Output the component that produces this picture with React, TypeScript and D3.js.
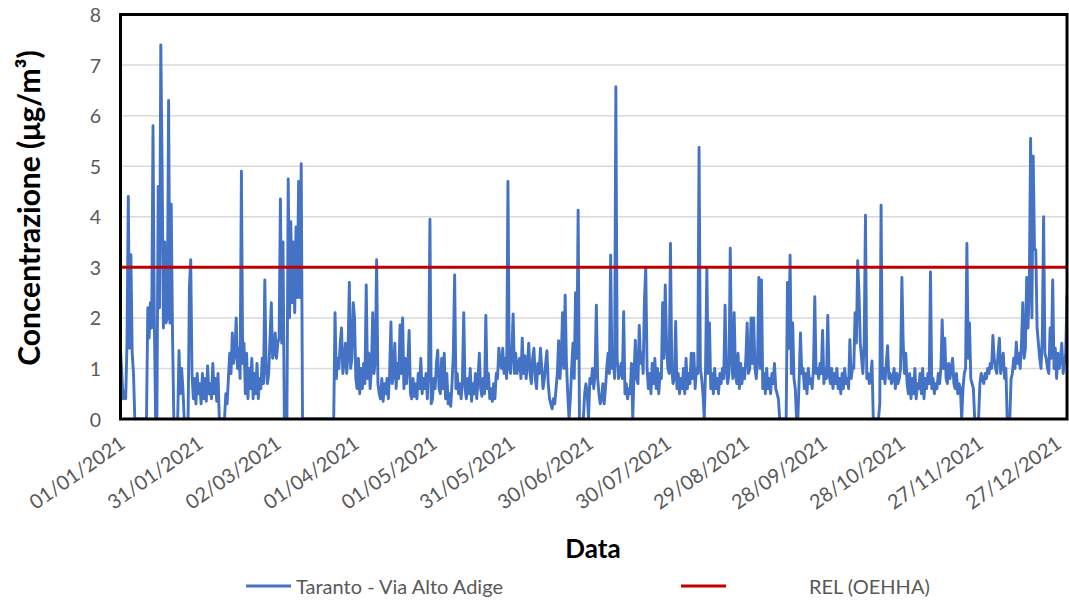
import React from "react";
import * as d3 from "d3";

// ---------- DATA ----------
const startDate = "01/01/2021";
const endDate = "31/12/2021";
const stepHours = 12; // two readings per day (00:00, 12:00)

const jan = [1.35,0.9, 0.4,0.55, 0.4,1.5, 4.4,1.4, 3.25,1.3, 0.9,0, 0,0, 0,0, 0,0, 0,0,
  0,2.2, 1.6,2.3, 1.8,5.8, 2.0,0, 0,4.6, 2.2,7.4, 5.0,1.8, 3.5,1.9, 2.0,6.3, 1.9,4.25,
  1.7,0, 0,0, 0,1.35, 0.5,1.0, 0.6,0, 0,0, 0,2.6, 3.15,0.9, 0.4,0.8, 0.3,0.9, 0.5,0.7];
const feb = [0.3,0.9, 0.4,0.8, 0.35,1.05, 0.5,0.7, 0.4,1.1, 0.5,0.8, 0.35,0.9, 0,0, 0,0, 0,0.5,
  0.3,0.8, 1.3,0.9, 1.7,1.1, 1.3,2.0, 1.0,1.4, 0.8,4.9, 1.1,1.5, 0.5,1.3, 0.4,1.0, 0.6,1.2,
  0.4,0.9, 0.5,1.1, 0.4,0.8, 0.6,1.2, 0.7,2.75, 1.0,0.7, 0.9,1.6, 2.3,1.2];
const mar = [1.3,1.7, 1.2,1.5, 1.6,4.35, 1.5,3.5, 0,0, 0,4.75, 2.0,3.9, 2.3,3.5, 2.1,3.8, 2.4,4.7,
  2.4,5.05, 0,0, 0,0, 0,0, 0,0, 0,0, 0,0, 0,0, 0,0, 0,0,
  0,0, 0,0, 0,0, 0,2.1, 0.8,1.2, 1.0,1.5, 1.8,0.9, 1.1,1.5, 0.9,1.3, 2.7,1.0, 1.2,2.3];
const apr = [2.0,0.8, 0.6,1.2, 0.5,1.0, 0.6,1.1, 0.7,2.65, 0.8,1.3, 0.6,1.0, 2.1,0.9, 1.2,3.15, 0.7,0.5,
  0.4,0.8, 0.35,0.7, 0.5,0.8, 0.4,0.9, 1.92,0.7, 0.9,1.5, 0.6,1.1, 0.8,1.86, 0.9,2.0, 0.6,1.2,
  0.7,1.1, 1.75,0.5, 0.4,0.8, 0.45,0.7, 0.4,0.9, 0.6,1.2, 0.5,0.8, 0.6,0.9, 0.4,1.0, 3.95,0.3];
const may = [0.4,0.8, 0.6,1.1, 1.36,0.6, 0.5,1.2, 0.6,1.3, 0.4,0.9, 0.3,0.5, 0.25,0.7, 1.3,2.85, 0.6,0.9,
  0.5,0.7, 0.4,0.8, 2.1,0.6, 0.4,0.8, 0.5,1.0, 0.35,0.7, 0.5,0.9, 0.4,0.8, 1.3,0.6, 0.45,0.8,
  0.5,2.05, 0.6,0.9, 0.4,0.6, 0.35,0.7, 0.4,0.9, 0.8,1.4, 1.1,1.0, 1.4,0.9, 1.2,0.8, 4.7,1.0, 0.9,1.3];
const jun = [2.08,0.9, 1.3,0.9, 1.1,1.2, 0.8,1.6, 0.9,1.25, 0.8,1.1, 1.5,0.9, 0.7,1.2, 1.4,0.8, 0.6,1.1,
  0.9,1.4, 1.0,0.6, 0.8,1.1, 1.35,0.7, 0.4,0.3, 0.2,0.4, 0.3,0.6, 0.9,1.55, 0.8,1.2, 2.1,1.0,
  2.45,1.1, 0.5,0, 0.4,1.0, 1.5,0.8, 2.5,1.2, 4.13,0, 0,0, 0,0.5, 0.7,0.5, 0,0.8];
const jul = [0.7,1.0, 0.6,0.9, 2.25,0.8, 0.5,0.3, 0.4,0.7, 0.3,0.6, 1.0,1.3, 0.9,3.24, 1.0,1.3, 0.8,6.57,
  1.2,0.8, 0.9,1.1, 0.8,2.12, 0.5,0.7, 0.4,0.6, 0.5,1.1, 0,0.9, 1.56,0.8, 0.7,1.85, 1.1,1.3,
  0.9,2.35, 3.0,1.0, 0.6,0.9, 0.5,1.1, 0.7,1.2, 0.6,1.0, 0.5,0.9, 0.8,2.3, 1.2,2.65, 1.5,1.0, 0.9,3.47];
const aug = [1.0,0.7, 0.8,1.93, 0.6,0.9, 0.5,0.8, 0.6,1.0, 0.5,1.2, 0.6,0.9, 0.7,1.3, 0.8,1.3, 0.6,1.0,
  0.9,5.37, 1.0,0.8, 0.5,0, 1.0,2.98, 0.9,1.9, 0.6,0.9, 0.5,1.0, 0.6,0.8, 0.5,0.9, 0.7,1.0,
  0.8,2.25, 1.0,0.7, 0.9,3.38, 1.2,0.8, 2.1,0.9, 0.7,1.3, 0.6,1.1, 0.7,1.0, 0.8,1.2, 1.9,0.9, 1.0,2.0];
const sep = [1.1,2.0, 1.0,0.8, 1.2,2.8, 1.0,2.75, 0.6,0.9, 0.5,1.0, 0.6,0.8, 0.5,0.9, 0.7,1.1, 0.6,0.5,
  0.4,0, 0,0, 0,0, 0,2.7, 1.4,3.24, 0.9,1.9, 0.8,0.6, 0,0, 0.8,1.7, 0.9,1.0,
  0.6,0.9, 0.5,1.0, 0.7,0.8, 0.6,1.0, 2.42,0.9, 1.0,0.8, 1.1,0.9, 1.75,0.7, 1.0,0.8, 2.05,0.9];
const oct = [0.7,1.0, 0.6,0.9, 0.7,1.0, 0.6,0.8, 0.5,0.9, 0.6,1.0, 0.7,0.8, 0.6,1.57, 0.8,1.0, 1.0,2.1,
  1.5,3.13, 2.5,1.5, 1.2,0.9, 1.5,4.03, 0.8,0.9, 0.7,0.8, 1.15,0, 0,0, 0,0, 0.3,4.23,
  0.8,1.0, 0.7,1.1, 1.45,0.8, 0.9,0.7, 0.8,1.0, 0.6,0.9, 0.7,0.8, 1.0,2.8, 1.5,0.9, 1.3,0.7, 0.5,0.9];
const nov = [0.4,0.8, 0.5,1.0, 0.4,0.7, 0.6,0.9, 0.5,1.0, 0.4,0.8, 0.6,0.9, 0.7,2.91, 0.6,0.8, 0.5,0.7,
  0.6,0.9, 0.7,1.0, 1.96,1.0, 1.6,0.8, 0.7,1.1, 0.8,1.0, 1.2,0.7, 0.6,0.9, 0.5,0.7, 0.6,0,
  0.6,0.9, 1.0,3.47, 1.2,1.9, 0.8,0.7, 0.6,0, 0,0, 0,0.7, 0.9,0.8, 0.7,0.9, 0.8,1.0];
const dec = [0.9,1.1, 1.0,1.65, 1.2,1.0, 0.9,1.3, 1.6,0.9, 1.1,1.3, 0.8,1.0, 0,0, 0,0.8, 0.9,1.2,
  1.0,1.52, 1.1,1.3, 1.0,1.5, 2.3,1.2, 1.4,2.8, 1.8,2.6, 5.55,2.0, 5.2,3.35, 3.35,1.8, 1.5,1.2,
  1.0,1.6, 4.0,1.3, 1.2,1.0, 0.9,1.8, 1.2,2.75, 1.0,1.4, 0.8,1.3, 1.0,1.2, 1.5,0.9, 1.1,1.3, 2.45,0.8];

const monthlySeries = [jan, feb, mar, apr, may, jun, jul, aug, sep, oct, nov, dec];

const tickLabels = ["01/01/2021", "31/01/2021", "02/03/2021", "01/04/2021", "01/05/2021",
  "31/05/2021", "30/06/2021", "30/07/2021", "29/08/2021", "28/09/2021", "28/10/2021",
  "27/11/2021", "27/12/2021"];
const yTicks = [0, 1, 2, 3, 4, 5, 6, 7, 8];
const relValue = 3;
const seriesName = "Taranto - Via Alto Adige";
const relName = "REL (OEHHA)";
const yTitle = "Concentrazione (\u03bcg/m\u00b3)";
const xTitle = "Data";

// ---------- LAYOUT ----------
const W = 1069, H = 602;
const L = 120.5, R = 1067, T = 14.5, B = 419;
const FONT = "Lato, 'Open Sans', sans-serif";
const BLUE = "#4472C4", RED = "#C00000", GRAY = "#595959";

export default function App() {
  const parse = d3.utcParse("%d/%m/%Y");
  const start = parse(startDate) as Date;
  const end = parse(endDate) as Date;
  const x = d3.scaleUtc().domain([start, end]).range([L, R]);
  const y = d3.scaleLinear().domain([0, 8]).range([B, T]);

  const values = monthlySeries.flat();
  const pts: [Date, number][] = values.map((v, i) => [d3.utcHour.offset(start, i * stepHours), v]);
  const line = d3.line<[Date, number]>().x(d => x(d[0])).y(d => y(d[1]));
  const path = line(pts) || "";

  return (
    <svg width={W} height={H} style={{ position: "absolute", left: 0, top: 0, background: "#fff" }}
      fontFamily={FONT}>
      <defs>
        <clipPath id="plotclip">
          <rect x={L} y={T - 2} width={R - L} height={B - T + 2} />
        </clipPath>
      </defs>
      {/* grid */}
      {yTicks.filter(t => t > 0 && t < 8).map(t => (
        <line key={"g" + t} x1={L} x2={R} y1={y(t)} y2={y(t)} stroke="#d9d9d9" strokeWidth={1.5} />
      ))}
      {/* series */}
      <g clipPath="url(#plotclip)">
        <path d={path} fill="none" stroke={BLUE} strokeWidth={2.9} strokeLinejoin="round" />
        <line x1={L} x2={R} y1={y(relValue)} y2={y(relValue)} stroke={RED} strokeWidth={3} />
      </g>
      {/* border */}
      <rect x={L} y={T} width={R - L} height={B - T} fill="none" stroke="#000" strokeWidth={3} />
      {/* y ticks */}
      {yTicks.map(t => (
        <text key={"y" + t} x={101} y={y(t)} textAnchor="end" dominantBaseline="central"
          fontSize={19.5} fill={GRAY}>{t}</text>
      ))}
      {/* x ticks */}
      {tickLabels.map(lbl => {
        const tx = x(parse(lbl) as Date);
        return (
          <text key={lbl} transform={`translate(${tx + 1.5},440) rotate(-35)`} textAnchor="end"
            dominantBaseline="central" fontSize={20} fill={GRAY}>{lbl}</text>
        );
      })}
      {/* titles */}
      <text x={593} y={548} textAnchor="middle" dominantBaseline="central" fontSize={26}
        fontWeight="bold" fill="#000">{xTitle}</text>
      <text transform={`translate(28,208) rotate(-90)`} textAnchor="middle" dominantBaseline="central"
        fontSize={30} fontWeight="bold" fill="#000">{yTitle}</text>
      {/* legend */}
      <line x1={246} x2={291} y1={586} y2={586} stroke={BLUE} strokeWidth={3} />
      <text x={296} y={586} dominantBaseline="central" fontSize={20} fill={GRAY}>{seriesName}</text>
      <line x1={681} x2={726} y1={586} y2={586} stroke={RED} strokeWidth={3} />
      <text x={809} y={586} dominantBaseline="central" fontSize={20} fill={GRAY}>{relName}</text>
    </svg>
  );
}
